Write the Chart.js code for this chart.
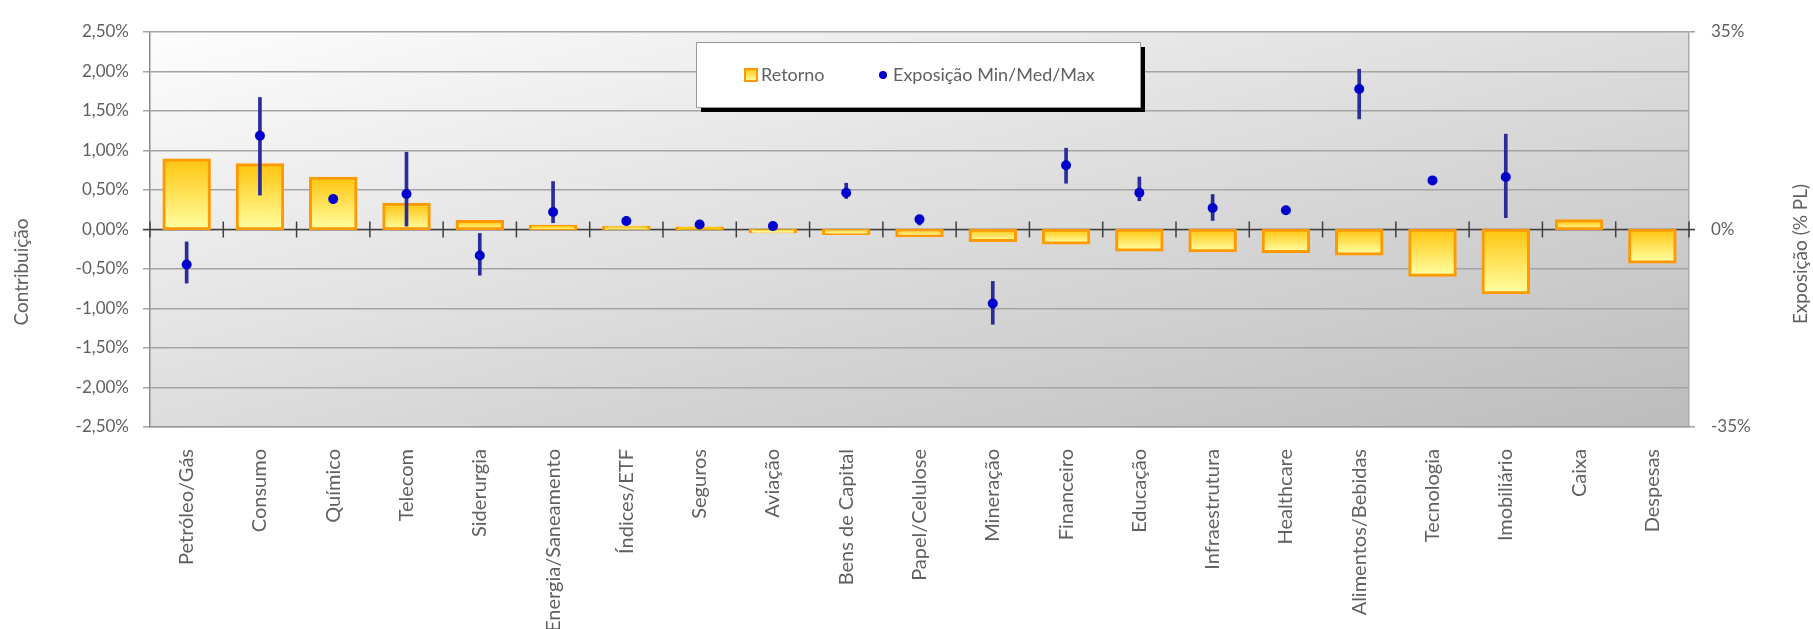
<!DOCTYPE html>
<html><head><meta charset="utf-8">
<script src="https://cdn.jsdelivr.net/npm/chart.js@4.4.1/dist/chart.umd.min.js"></script>
<style>html,body{margin:0;padding:0;background:#fff;overflow:hidden}#wrap{width:1813px;height:629px;position:relative}</style>
</head><body><div id="wrap"><canvas id="c" width="1813" height="629"></canvas></div>
<script>
const categories = ['Petróleo/Gás','Consumo','Químico','Telecom','Siderurgia','Energia/Saneamento','Índices/ETF','Seguros','Aviação','Bens de Capital','Papel/Celulose','Mineração','Financeiro','Educação','Infraestrutura','Healthcare','Alimentos/Bebidas','Tecnologia','Imobiliário','Caixa','Despesas'];
const retorno = [0.88,0.82,0.65,0.32,0.10,0.04,0.03,0.02,-0.03,-0.05,-0.08,-0.14,-0.17,-0.26,-0.27,-0.28,-0.31,-0.58,-0.80,0.11,-0.41];
const expMed = [-6.2,16.6,5.4,6.3,-4.6,3.1,1.5,0.9,0.6,6.5,1.8,-13.1,11.4,6.5,3.8,3.4,24.9,8.7,9.3,null,null];
const expMin = [-9.5,6.1,4.6,0.6,-8.1,1.2,1.5,0.9,0.6,5.5,0.8,-16.8,8.2,5.1,1.6,3.4,19.6,8.7,2.1,null,null];
const expMax = [-2.2,23.4,5.9,13.7,-0.7,8.5,1.5,0.9,0.6,8.2,1.8,-9.2,14.4,9.3,6.2,3.4,28.4,8.7,16.9,null,null];
const leftTitle = 'Contribuição';
const rightTitle = 'Exposição (% PL)';
const legendLabels = ['Retorno','Exposição Min/Med/Max'];

const FONT = 'Lato, "Open Sans", sans-serif';
const TEXT = '#606060';
const GOLD = '#FFC50F', PALE = '#FFFFA2', ORANGE = '#FF9900';

function barGradient(ctx){
  const chart = ctx.chart;
  if (ctx.type !== 'data' || !chart.scales || !chart.scales.y) return GOLD;
  const ys = chart.scales.y;
  const a = ys.getPixelForValue(ctx.raw), b = ys.getPixelForValue(0);
  if (!isFinite(a) || !isFinite(b)) return GOLD;
  const top = Math.min(a,b), bot = Math.max(a,b);
  if (bot - top < 2) return GOLD;
  const g = chart.ctx.createLinearGradient(0, top, 0, bot);
  g.addColorStop(0, GOLD); g.addColorStop(1, PALE);
  return g;
}

const bgPlugin = {
  id: 'bg',
  beforeDraw(chart){
    const {ctx, chartArea: ca} = chart;
    ctx.save();
    ctx.translate(ca.left, ca.top);
    ctx.scale(ca.right - ca.left, ca.bottom - ca.top);
    const g = ctx.createLinearGradient(0,0,1,1);
    g.addColorStop(0,'#fdfdfd'); g.addColorStop(1,'#bcbcbc');
    ctx.fillStyle = g; ctx.fillRect(0,0,1,1);
    ctx.restore();
  }
};

const zeroPlugin = {
  id: 'zero',
  beforeDatasetsDraw(chart){
    const {ctx, chartArea: ca} = chart;
    const y0 = chart.scales.y.getPixelForValue(0);
    const xs = chart.scales.x;
    ctx.save();
    ctx.strokeStyle = '#3f3f3f'; ctx.lineWidth = 1.5;
    ctx.beginPath(); ctx.moveTo(ca.left - 7, y0); ctx.lineTo(ca.right + 6, y0); ctx.stroke();
    const n = categories.length;
    for (let i = 0; i <= n; i++){
      let x;
      if (i === 0) x = ca.left; else if (i === n) x = ca.right;
      else x = (xs.getPixelForValue(i-1) + xs.getPixelForValue(i)) / 2;
      ctx.beginPath(); ctx.moveTo(x, y0 - 8); ctx.lineTo(x, y0 + 8); ctx.stroke();
    }
    ctx.restore();
  }
};

const decoPlugin = {
  id: 'deco',
  afterDraw(chart){
    const ctx = chart.ctx;
    ctx.save();
    ctx.fillStyle = TEXT; ctx.font = '19px ' + FONT;
    ctx.textAlign = 'center'; ctx.textBaseline = 'middle';
    ctx.save(); ctx.translate(22, 272); ctx.rotate(-Math.PI/2); ctx.fillText(leftTitle, 0, 0); ctx.restore();
    ctx.save(); ctx.translate(1801, 254); ctx.rotate(-Math.PI/2); ctx.fillText(rightTitle, 0, 0); ctx.restore();
    const bx = 696, by = 42, bw = 444, bh = 65;
    ctx.fillStyle = '#000'; ctx.fillRect(bx + 5, by + 5, bw, bh);
    ctx.fillStyle = '#fff'; ctx.fillRect(bx, by, bw, bh);
    ctx.strokeStyle = '#9a9a9a'; ctx.lineWidth = 1; ctx.strokeRect(bx + 0.5, by + 0.5, bw, bh);
    const cy = 75;
    const g = ctx.createLinearGradient(0, cy - 6, 0, cy + 6);
    g.addColorStop(0, GOLD); g.addColorStop(1, PALE);
    ctx.fillStyle = g; ctx.fillRect(745, cy - 6, 12, 12);
    ctx.strokeStyle = ORANGE; ctx.lineWidth = 2; ctx.strokeRect(745, cy - 6, 12, 12);
    ctx.fillStyle = TEXT; ctx.font = '18px ' + FONT; ctx.textAlign = 'left';
    ctx.fillText(legendLabels[0], 761, cy);
    ctx.fillStyle = '#0000cc'; ctx.beginPath(); ctx.arc(883, cy, 4, 0, Math.PI*2); ctx.fill();
    ctx.fillStyle = TEXT; ctx.fillText(legendLabels[1], 893, cy);
    ctx.restore();
  }
};

new Chart(document.getElementById('c'), {
  type: 'bar',
  data: {
    labels: categories,
    datasets: [
      { type: 'line', label: legendLabels[1], data: expMed, yAxisID: 'y2', showLine: false,
        pointRadius: 5, pointHoverRadius: 5, pointBackgroundColor: '#0000cc', pointBorderWidth: 0, order: 0 },
      { type: 'bar', label: 'range', data: expMin.map((m,i) => m == null ? null : [m, expMax[i]]), yAxisID: 'y2',
        barThickness: 3, grouped: false, backgroundColor: '#2b2b9c', borderWidth: 0, order: 1 },
      { type: 'bar', label: legendLabels[0], data: retorno, yAxisID: 'y', grouped: false,
        backgroundColor: barGradient, borderColor: ORANGE, borderWidth: 3, borderSkipped: false,
        inflateAmount: 1.5, barPercentage: 0.62, categoryPercentage: 1, order: 2 }
    ]
  },
  options: {
    responsive: false, animation: false, devicePixelRatio: 1,
    layout: { padding: { top: 32, left: 0, right: 0, bottom: 0 } },
    plugins: { legend: { display: false }, tooltip: { enabled: false } },
    scales: {
      x: {
        offset: true,
        grid: { display: false },
        border: { display: true, color: '#9c9c9c', width: 1.5 },
        ticks: { autoSkip: false, maxRotation: 90, minRotation: 90, padding: 14,
                 color: TEXT, font: { family: FONT, size: 20 } },
        afterFit(s){ s.height = 202; }
      },
      y: {
        position: 'left', min: -2.5, max: 2.5,
        grid: { color: '#a4a4a4', lineWidth: 1.5, tickLength: 7 },
        border: { display: true, color: '#8a8a8a', width: 1.5 },
        ticks: { stepSize: 0.5, padding: 14, color: TEXT, font: { family: FONT, size: 17 },
                 callback: v => v.toFixed(2).replace('.', ',') + '%' },
        afterFit(s){ s.width = 150; }
      },
      y2: {
        position: 'right', min: -35, max: 35,
        grid: { drawOnChartArea: false, color: '#a4a4a4', lineWidth: 1.5, tickLength: 6 },
        border: { display: true, color: '#a8a8a8', width: 1.5 },
        ticks: { stepSize: 35, padding: 16, color: TEXT, font: { family: FONT, size: 17 },
                 callback: v => v + '%' },
        afterFit(s){ s.width = 124; }
      }
    }
  },
  plugins: [bgPlugin, zeroPlugin, decoPlugin]
});
</script>
</body></html>
